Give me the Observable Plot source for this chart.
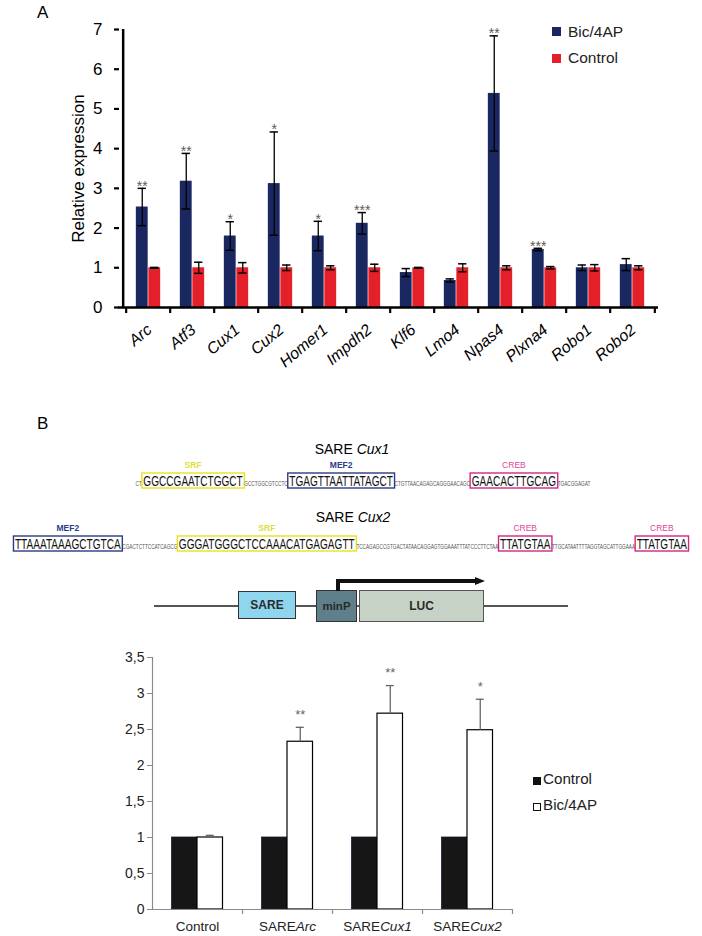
<!DOCTYPE html>
<html><head><meta charset="utf-8">
<script src="https://cdn.jsdelivr.net/npm/d3@7"></script>
<script src="https://cdn.jsdelivr.net/npm/@observablehq/plot@0.6"></script>
<style>
body{margin:0;background:#fff;font-family:Arial,"Liberation Sans",sans-serif;}
#page{position:relative;width:702px;height:936px;overflow:hidden;background:#fff;}
.abs{position:absolute;}
.lbl{position:absolute;line-height:1;white-space:nowrap;}
.box{position:absolute;box-sizing:border-box;display:flex;align-items:center;justify-content:center;font-weight:bold;color:#2a2a2a;}
</style></head><body><div id="page">
<div class="lbl" style="left:37px;top:4px;font-size:17px;">A</div>
<div class="lbl" style="left:37px;top:415px;font-size:17px;">B</div>
<div id="legA"></div>
<div class="lbl" style="left:0;width:704px;text-align:center;top:442px;font-size:14px;">SARE <i>Cux1</i></div>
<div class="lbl" style="left:0;width:706px;text-align:center;top:510px;font-size:14px;">SARE <i>Cux2</i></div>
<div id="diagram"></div>
<div id="legB"></div>
</div>
<script>
// ---------- Panel A data ----------
const genes   = ["Arc","Atf3","Cux1","Cux2","Homer1","Impdh2","Klf6","Lmo4","Npas4","Plxna4","Robo1","Robo2"];
const bicMean = [2.53, 3.18, 1.80, 3.12, 1.80, 2.12, 0.88, 0.68, 5.39, 1.46, 1.00, 1.08];
const bicErr  = [0.47, 0.70, 0.36, 1.30, 0.37, 0.27, 0.10, 0.04, 1.45, 0.03, 0.07, 0.15];
const ctlMean = [1.00, 1.00, 1.00, 1.00, 1.00, 1.00, 1.00, 1.00, 1.00, 1.00, 1.00, 1.00];
const ctlErr  = [0.01, 0.14, 0.13, 0.07, 0.05, 0.09, 0.01, 0.10, 0.05, 0.03, 0.08, 0.05];
const starsA  = ["**","**","*","*","*","***","","","**","***","",""];
const yTicksA = [0,1,2,3,4,5,6,7];
const seriesA = ["Bic/4AP","Control"];

// ---------- Panel B data ----------
const constructs = ["Control","SAREArc","SARECux1","SARECux2"];
const ctlB    = [1, 1, 1, 1];
const bicB    = [1.00, 2.33, 2.72, 2.49];
const bicBErr = [0.03, 0.20, 0.39, 0.43];
const starsB  = ["","**","**","*"];
const yTicksB = [0,0.5,1,1.5,2,2.5,3,3.5];
const seriesB = ["Control","Bic/4AP"];

// ---------- Sequence annotations ----------
const seqCux1 = [
  {seq:"CT"},
  {seq:"GGCCGAATCTGGCT", site:"SRF"},
  {seq:"GCCTGGCGTCCTC"},
  {seq:"TGAGTTAATTATAGCT", site:"MEF2"},
  {seq:"CTGTTAACAGAGCAGGGAACAGC"},
  {seq:"GAACACTTGCAG", site:"CREB"},
  {seq:"TGACGGAGAT"}
];
const seqCux2 = [
  {seq:"TTAAATAAAGCTGTCA", site:"MEF2"},
  {seq:"CGACTCTTCCATCAGCG"},
  {seq:"GGGATGGGCTCCAAACATGAGAGTT", site:"SRF"},
  {seq:"TCCAGAGCCGTGACTATAACAGGAGTGGAAATTTATCCCTTCTAA"},
  {seq:"TTATGTAA", site:"CREB"},
  {seq:"TTGCATAATTTTAGGTAGCATTGGAAA"},
  {seq:"TTATGTAA", site:"CREB"}
];
const constructParts = ["SARE","minP","LUC"];

const BLUE = "#1b2760", RED = "#e4202a";
const FONT = "Arial, 'Liberation Sans', sans-serif";
const page = document.getElementById("page");

// ================= Panel A =================
const dataA = genes.map((g,i)=>({gene:g, bic:bicMean[i], bicErr:bicErr[i], ctl:ctlMean[i], ctlErr:ctlErr[i], star:starsA[i]}));
const WA=702, HA=370, mlA=122, mrA=44, mtA=29, mbA=63;
const bwA = (WA-mlA-mrA)/genes.length, barA = 12.5, capA = 9, fhA = HA-mtA-mbA;
const errA = (key, ek, sign) => [
  Plot.ruleX(dataA, {x:"gene", y1:d=>d[key]-d[ek], y2:d=>d[key]+d[ek], dx:sign*barA/2, stroke:"#000", strokeWidth:1.3}),
  Plot.tickY(dataA, {x:"gene", y:d=>d[key]+d[ek], insetLeft:bwA/2+sign*barA/2-capA/2, insetRight:bwA/2-sign*barA/2-capA/2, stroke:"#000", strokeWidth:1.5}),
  Plot.tickY(dataA, {x:"gene", y:d=>d[key]-d[ek], insetLeft:bwA/2+sign*barA/2-capA/2, insetRight:bwA/2-sign*barA/2-capA/2, stroke:"#000", strokeWidth:1.5})
];
const plotA = Plot.plot({
  width:WA, height:HA, marginLeft:mlA, marginRight:mrA, marginTop:mtA, marginBottom:mbA,
  style:{fontFamily:FONT, fontSize:"16px", color:"#000", background:"transparent"},
  x:{type:"band", domain:genes, padding:0},
  y:{domain:[0,7]},
  marks:[
    Plot.barY(dataA, {x:"gene", y:"bic", fill:BLUE, insetLeft:bwA/2-barA, insetRight:bwA/2}),
    Plot.barY(dataA, {x:"gene", y:"ctl", fill:RED, insetLeft:bwA/2, insetRight:bwA/2-barA}),
    ...errA("bic","bicErr",-1),
    ...errA("ctl","ctlErr",1),
    Plot.text(dataA, {x:"gene", y:d=>d.bic+d.bicErr, text:"star", dx:-barA/2, dy:-2, fill:"#5a5a5a", fontSize:14}),
    Plot.ruleX([genes[0]], {dx:-bwA/2-3, stroke:"#000", strokeWidth:2.5, insetBottom:-1}),
    Plot.ruleY([0], {stroke:"#000", strokeWidth:2.5, insetLeft:-4}),
    Plot.ruleX(genes, {dx:-bwA/2, insetTop:fhA, insetBottom:-6, stroke:"#000", strokeWidth:2.2}),
    Plot.ruleX([genes[genes.length-1]], {dx:bwA/2, insetTop:fhA, insetBottom:-6, stroke:"#000", strokeWidth:2.2}),
    Plot.axisY({ticks:yTicksA, tickFormat:d=>String(d), tickSize:5, tickPadding:12, fontSize:17, strokeWidth:2.2, dx:-3,
      label:"Relative expression", labelAnchor:"center", labelOffset:51, labelArrow:"none"}),
    Plot.axisX({tickSize:0, tickRotate:-40, tickPadding:20, dx:1, fontSize:16, fontStyle:"italic", label:null})
  ]
});
plotA.classList.add("abs"); plotA.style.left="0px"; plotA.style.top="0px";
page.appendChild(plotA);

// legend A
const legA = document.getElementById("legA");
seriesA.forEach((s,i)=>{
  const c = i===0?BLUE:RED;
  legA.insertAdjacentHTML("beforeend",
    `<div class="abs" style="left:552px;top:${27+i*27}px;width:9px;height:9px;background:${c}"></div>
     <div class="lbl" style="left:568px;top:${24+i*26}px;font-size:15.5px;color:#222">${s}</div>`);
});

// ================= Sequence lines =================
const siteStroke = {SRF:"#e8e21c", MEF2:"#2c3a80", CREB:"#d2277f"};
const siteLabel  = {SRF:"#e3dc3a", MEF2:"#2c3a8c", CREB:"#e0459a"};
function drawSeq(segs, cx, boxTop){
  const svg = d3.select(page).append("svg").attr("class","abs")
    .style("left","0px").style("top",(boxTop-20)+"px").attr("width",702).attr("height",40)
    .style("font-family",FONT);
  const g = svg.append("g");
  const bt = 20, bh = 15, pad = 1.5, SQ = 0.72;
  let x = 0;
  for (const s of segs){
    const box = !!s.site;
    const t = g.append("text").attr("x",0).attr("y",0)
      .attr("font-size", box?14:6.5).attr("fill", box?"#111":"#555").text(s.seq);
    const w = t.node().getComputedTextLength()*SQ;
    t.attr("transform", `translate(${x+(box?pad:0)},${bt+12.5}) scale(${SQ},1)`);
    if (box){
      const bw = w+2*pad;
      g.append("rect").attr("x",x).attr("y",bt).attr("width",bw).attr("height",bh)
        .attr("fill","none").attr("stroke",siteStroke[s.site]).attr("stroke-width",1.4);
      g.append("text").attr("x",x+bw/2).attr("y",bt-5).attr("text-anchor","middle")
        .attr("font-size",8.5).attr("font-weight",s.site==="CREB"?"normal":"bold")
        .attr("fill",siteLabel[s.site]).text(s.site);
      x += bw;
    } else x += w;
  }
  g.attr("transform",`translate(${cx-x/2},0)`);
}
drawSeq(seqCux1, 363, 473);
drawSeq(seqCux2, 351, 536);

// ================= Construct diagram =================
const dg = document.getElementById("diagram");
dg.innerHTML = `
<div class="abs" style="left:154px;top:605px;width:414px;height:1.5px;background:#555"></div>
<div class="box" style="left:238px;top:591px;width:58px;height:28px;background:#8fd5ee;border:1.3px solid #333;font-size:12px">${constructParts[0]}</div>
<div class="box" style="left:316px;top:590px;width:41px;height:32px;background:#5f808a;border:1.3px solid #333;font-size:11.5px">${constructParts[1]}</div>
<div class="box" style="left:359px;top:590px;width:125px;height:32px;background:#c6d2c6;border:1.3px solid #555;font-size:12px">${constructParts[2]}</div>
<div class="abs" style="left:336px;top:579px;width:3.5px;height:12px;background:#111"></div>
<div class="abs" style="left:336px;top:579px;width:140px;height:3.5px;background:#111"></div>
<div class="abs" style="left:475px;top:576.5px;width:0;height:0;border-left:10px solid #111;border-top:4.5px solid transparent;border-bottom:4.5px solid transparent"></div>
`;

// ================= Panel B =================
const dataB = constructs.map((c,i)=>({c, ctl:ctlB[i], bic:bicB[i], err:bicBErr[i], star:starsB[i]}));
const WB=702, HB=296, mlB=152, mrB=190, mtB=17, mbB=27;
const bwB = (WB-mlB-mrB)/constructs.length, barB = 25.5, capB = 8, fhB = HB-mtB-mbB;
const plotB = Plot.plot({
  width:WB, height:HB, marginLeft:mlB, marginRight:mrB, marginTop:mtB, marginBottom:mbB,
  style:{fontFamily:FONT, fontSize:"14px", color:"#222", background:"transparent"},
  x:{type:"band", domain:constructs, padding:0},
  y:{domain:[0,3.5]},
  marks:[
    Plot.barY(dataB, {x:"c", y:"ctl", fill:"#161616", stroke:"#1d1d3c", strokeWidth:0.8, insetLeft:bwB/2-barB, insetRight:bwB/2}),
    Plot.barY(dataB, {x:"c", y:"bic", fill:"#fff", stroke:"#000", strokeWidth:1.2, insetLeft:bwB/2, insetRight:bwB/2-barB}),
    Plot.ruleX(dataB, {x:"c", y1:"bic", y2:d=>d.bic+d.err, dx:barB/2, stroke:"#666", strokeWidth:1.3}),
    Plot.tickY(dataB, {x:"c", y:d=>d.bic+d.err, insetLeft:bwB/2+barB/2-capB/2, insetRight:bwB/2-barB/2-capB/2, stroke:"#666", strokeWidth:1.3}),
    Plot.text(dataB, {x:"c", y:d=>d.bic+d.err, text:"star", dx:barB/2, dy:-12.5, fill:"#666", fontSize:13}),
    Plot.ruleX([constructs[0]], {dx:-bwB/2, stroke:"#8a8a8a", strokeWidth:1.2}),
    Plot.ruleY([0], {stroke:"#8a8a8a", strokeWidth:1.2}),
    Plot.ruleX(constructs, {dx:bwB/2, insetTop:fhB, insetBottom:-5, stroke:"#8a8a8a", strokeWidth:1.2}),
    Plot.axisY({ticks:yTicksB, tickSize:5, tickPadding:3, fontSize:14, stroke:"#8a8a8a",
      tickFormat:d=>String(d).replace(".",","), label:null}),
    Plot.axisX({tickSize:0, tickPadding:12, fontSize:13.5, label:null})
  ]
});
plotB.classList.add("abs"); plotB.style.left="0px"; plotB.style.top="640px";
page.appendChild(plotB);
plotB.querySelectorAll("text").forEach(t=>{
  const s = t.textContent;
  if (s.startsWith("SARE") && s.length>4 && t.children.length===0){
    t.textContent = "";
    const a = document.createElementNS("http://www.w3.org/2000/svg","tspan"); a.textContent="SARE";
    const b = document.createElementNS("http://www.w3.org/2000/svg","tspan"); b.textContent=s.slice(4); b.setAttribute("font-style","italic");
    t.appendChild(a); t.appendChild(b);
  }
});

// legend B
const legB = document.getElementById("legB");
seriesB.forEach((s,i)=>{
  const sq = i===0 ? "background:#111;" : "background:#fff;border:1px solid #111;box-sizing:border-box;";
  legB.insertAdjacentHTML("beforeend",
    `<div class="abs" style="left:533px;top:${777+i*26}px;width:7.5px;height:7.5px;${sq}"></div>
     <div class="lbl" style="left:543px;top:${771+i*26}px;font-size:15.2px;color:#222">${s}</div>`);
});
</script>
</body></html>
